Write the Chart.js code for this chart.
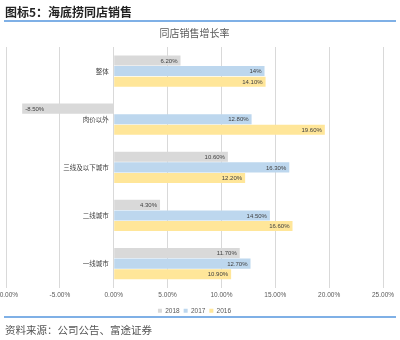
<!DOCTYPE html>
<html><head><meta charset="utf-8">
<script src="https://cdn.jsdelivr.net/npm/chart.js@4"></script>
<style>
html,body{margin:0;padding:0;background:#fff;width:400px;height:340px;overflow:hidden;}
#wrap{position:relative;width:400px;height:340px;}
canvas{position:absolute;left:0;top:0;}
#hdr{position:absolute;left:5px;top:3px;font:bold 12px "Noto Sans CJK SC",sans-serif;color:#222;white-space:nowrap;}
#l1{position:absolute;left:4px;right:4px;top:20px;height:2px;background:#7fb0e6;}
#l2{position:absolute;left:4px;right:4px;top:316px;height:2px;background:#7fb0e6;}
#ftr{position:absolute;left:5px;top:322px;font:10.5px "Noto Sans CJK SC",serif;color:#555;white-space:nowrap;}
</style></head>
<body><div id="wrap">
<canvas id="c" width="400" height="340"></canvas>
<div id="hdr">图标5：海底捞同店销售</div>
<div id="l1"></div>
<div id="ftr">资料来源：公司公告、富途证券</div>
<div id="l2"></div>
</div>
<script>
const categories = ["整体","肉价以外","三线及以下城市","二线城市","一线城市"];
const s2018 = [6.20,-8.50,10.60,4.30,11.70];
const s2017 = [14,12.80,16.30,14.50,12.70];
const s2016 = [14.10,19.60,12.20,16.60,10.90];
const xTicks = [-10,-5,0,5,10,15,20,25];
const chartTitle = "同店销售增长率";

const fmt = v => (Number.isInteger(v) ? v : v.toFixed(2)) + '%';
const labelFont = '6px "Liberation Sans","Noto Sans CJK SC",sans-serif';

const barLabels = {
  id:'barLabels',
  afterDatasetsDraw(chart){
    const ctx = chart.ctx;
    ctx.save();
    ctx.font = labelFont;
    ctx.fillStyle = '#404040';
    ctx.textBaseline = 'middle';
    chart.data.datasets.forEach((ds,di)=>{
      const meta = chart.getDatasetMeta(di);
      meta.data.forEach((el,i)=>{
        const v = ds.data[i];
        if (v >= 0){ ctx.textAlign='right'; ctx.fillText(fmt(v), el.x-3, el.y+0.5); }
        else { ctx.textAlign='left'; ctx.fillText(fmt(v), el.x+3, el.y+0.5); }
      });
    });
    const xs = chart.scales.x, ys = chart.scales.y;
    const x0 = xs.getPixelForValue(0);
    ctx.font = '6.5px "Noto Sans CJK SC",sans-serif';
    ctx.fillStyle = '#404040';
    ctx.textAlign = 'right';
    categories.forEach((c,i)=>{
      ctx.fillText(c, x0-5, ys.getPixelForValue(i));
    });
    ctx.restore();
  }
};

new Chart(document.getElementById('c'), {
  type:'bar',
  data:{
    labels:categories,
    datasets:[
      {label:'2018', data:s2018, backgroundColor:'#d9d9d9'},
      {label:'2017', data:s2017, backgroundColor:'#bdd7ee'},
      {label:'2016', data:s2016, backgroundColor:'#ffe699'}
    ]
  },
  options:{
    indexAxis:'y',
    responsive:false,
    animation:false,
    devicePixelRatio:1,
    layout:{padding:{left:6,right:17,top:26,bottom:16}},
    datasets:{bar:{categoryPercentage:0.66,barPercentage:0.95}},
    scales:{
      x:{
        min:-10,max:25,
        afterBuildTicks(s){ s.ticks = xTicks.map(v=>({value:v})); },
        afterFit(s){ s.paddingLeft=0; s.paddingRight=0; },
        border:{display:false},
        grid:{color:'#d9d9d9',drawTicks:false},
        ticks:{padding:4,color:'#595959',font:{size:6.5,family:'"Liberation Sans",sans-serif'},
          maxRotation:0,autoSkip:false,callback:v=>v.toFixed(2)+'%'}
      },
      y:{display:false}
    },
    plugins:{
      title:{display:true,text:chartTitle,color:'#595959',font:{size:10,weight:'normal',family:'"Noto Sans CJK SC",sans-serif'},padding:{top:1,bottom:8}},
      legend:{position:'bottom',labels:{boxWidth:4,boxHeight:4,padding:4,color:'#595959',font:{size:6.5,family:'"Liberation Sans",sans-serif'}}},
      tooltip:{enabled:false}
    }
  },
  plugins:[barLabels]
});
</script>
</body></html>
